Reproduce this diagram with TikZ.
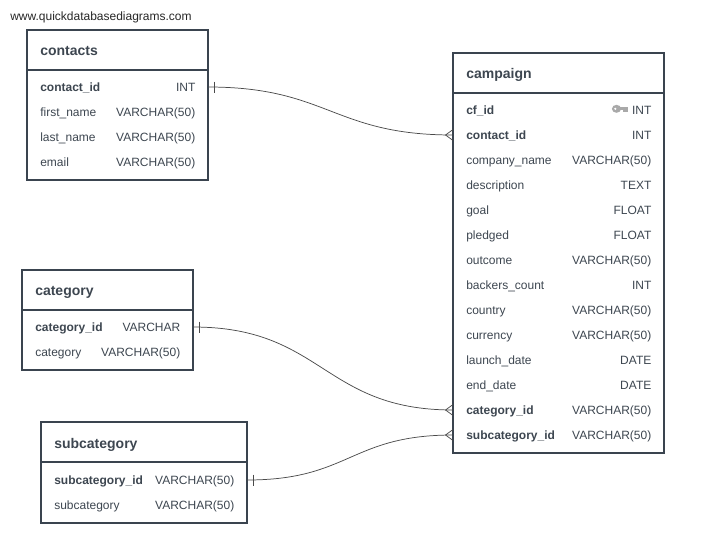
\documentclass[tikz,border=0pt]{standalone}
\usepackage{fontspec}
\setmainfont{Liberation Sans}
\definecolor{frame}{HTML}{3A444F}
\definecolor{ink}{HTML}{3D4650}
\definecolor{keyc}{HTML}{A9A9A9}
\definecolor{linkc}{HTML}{4A4A4A}
\tikzset{
  hdr/.style={anchor=base west,inner sep=0pt,text=ink,font=\fontsize{10.5pt}{12pt}\selectfont\bfseries},
  col/.style={anchor=base west,inner sep=0pt,text=ink,font=\fontsize{9pt}{11pt}\selectfont},
  pk/.style={col,font=\fontsize{9pt}{11pt}\selectfont\bfseries},
  typ/.style={anchor=base east,inner sep=0pt,text=ink,font=\fontsize{9pt}{11pt}\selectfont},
  rel/.style={draw=linkc,line width=0.55pt},
  tick/.style={draw=linkc,line width=0.55pt},
}
\newcommand{\tablebox}[6]{% name x1 y1 x2 y2 ysep
  \node[draw=frame,line width=1.5pt,inner sep=0pt,outer sep=0pt,rectangle,minimum width=#4*0.75pt-#2*0.75pt,minimum height=#5*0.75pt-#3*0.75pt,anchor=north west] (#1) at (#2,#3) {};
  \coordinate (#1L) at (#2,#6);
  \coordinate (#1R) at (#4,#6);
  \draw[draw=frame,line width=1.5pt] (#1L) -- (#1R);
}
\newcommand{\rowtext}[7]{% name style xl xr y text type
  \node[#2] (#1n) at (#3,#7+4.4) {#5};
  \node[typ] (#1t) at (#4+0.6,#7+4.4) {#6};
}
\begin{document}
\begin{tikzpicture}[x=0.75pt,y=-0.75pt]
\useasboundingbox (0,0) rectangle (701,558);
\node[anchor=base west,inner sep=0pt,text=black!85,font=\fontsize{9pt}{10pt}\selectfont] (site) at (10,20) {www.quickdatabasediagrams.com};

% contacts
\tablebox{contacts}{27}{30}{208}{180}{70}
\node[hdr] (contactsh) at (40,55) {contacts};
\rowtext{c1}{pk}{40}{195}{contact\_id}{INT}{87}
\rowtext{c2}{col}{40}{195}{first\_name}{VARCHAR(50)}{112}
\rowtext{c3}{col}{40}{195}{last\_name}{VARCHAR(50)}{137}
\rowtext{c4}{col}{40}{195}{email}{VARCHAR(50)}{162}

% category
\tablebox{category}{22}{270}{193}{370}{310}
\node[hdr] (categoryh) at (35,295) {category};
\rowtext{k1}{pk}{35}{180}{category\_id}{VARCHAR}{327}
\rowtext{k2}{col}{35}{180}{category}{VARCHAR(50)}{352}

% subcategory
\tablebox{subcategory}{41}{422}{247}{523}{462}
\node[hdr] (subcategoryh) at (54,448) {subcategory};
\rowtext{s1}{pk}{54}{234}{subcategory\_id}{VARCHAR(50)}{480}
\rowtext{s2}{col}{54}{234}{subcategory}{VARCHAR(50)}{505}

% campaign
\tablebox{campaign}{453}{53}{664}{453}{93}
\node[hdr] (campaignh) at (466,78) {campaign};
\rowtext{a1}{pk}{466}{651}{cf\_id}{INT}{110}
\rowtext{a2}{pk}{466}{651}{contact\_id}{INT}{135}
\rowtext{a3}{col}{466}{651}{company\_name}{VARCHAR(50)}{160}
\rowtext{a4}{col}{466}{651}{description}{TEXT}{185}
\rowtext{a5}{col}{466}{651}{goal}{FLOAT}{210}
\rowtext{a6}{col}{466}{651}{pledged}{FLOAT}{235}
\rowtext{a7}{col}{466}{651}{outcome}{VARCHAR(50)}{260}
\rowtext{a8}{col}{466}{651}{backers\_count}{INT}{285}
\rowtext{a9}{col}{466}{651}{country}{VARCHAR(50)}{310}
\rowtext{a10}{col}{466}{651}{currency}{VARCHAR(50)}{335}
\rowtext{a11}{col}{466}{651}{launch\_date}{DATE}{360}
\rowtext{a12}{col}{466}{651}{end\_date}{DATE}{385}
\rowtext{a13}{pk}{466}{651}{category\_id}{VARCHAR(50)}{410}
\rowtext{a14}{pk}{466}{651}{subcategory\_id}{VARCHAR(50)}{435}

% key icon
\fill[keyc] (616.5,108.8) ellipse (4.6 and 4);
\fill[white] (615.3,108.8) circle (1.2);
\fill[keyc] (620,107.2) rectangle (627.5,110);
\fill[keyc] (622.5,109.5) rectangle (624.5,112);
\fill[keyc] (625.3,109.5) rectangle (627.5,111.5);

% connector end points
\coordinate (e1a) at (208,87);
\coordinate (e1b) at (453,135);
\coordinate (e2a) at (193,327);
\coordinate (e2b) at (453,410);
\coordinate (e3a) at (247,480);
\coordinate (e3b) at (453,435);

\draw[rel] (e1a) .. controls +(120,0) and +(-120,0) .. (e1b);
\draw[rel] (e2a) .. controls +(130,0) and +(-130,0) .. (e2b);
\draw[rel] (e3a) .. controls +(103,0) and +(-103,0) .. (e3b);

% one marks
\draw[tick] ([xshift=4.5pt]e1a) ++(0,-5.5) -- ++(0,11);
\draw[tick] ([xshift=4.5pt]e2a) ++(0,-5.5) -- ++(0,11);
\draw[tick] ([xshift=4.5pt]e3a) ++(0,-5.5) -- ++(0,11);

% many marks
\foreach \e in {e1b,e2b,e3b}{
  \draw[tick] ([yshift=4.1pt]\e) -- ([xshift=-5.6pt]\e) -- ([yshift=-4.1pt]\e);
}
\end{tikzpicture}
\end{document}
